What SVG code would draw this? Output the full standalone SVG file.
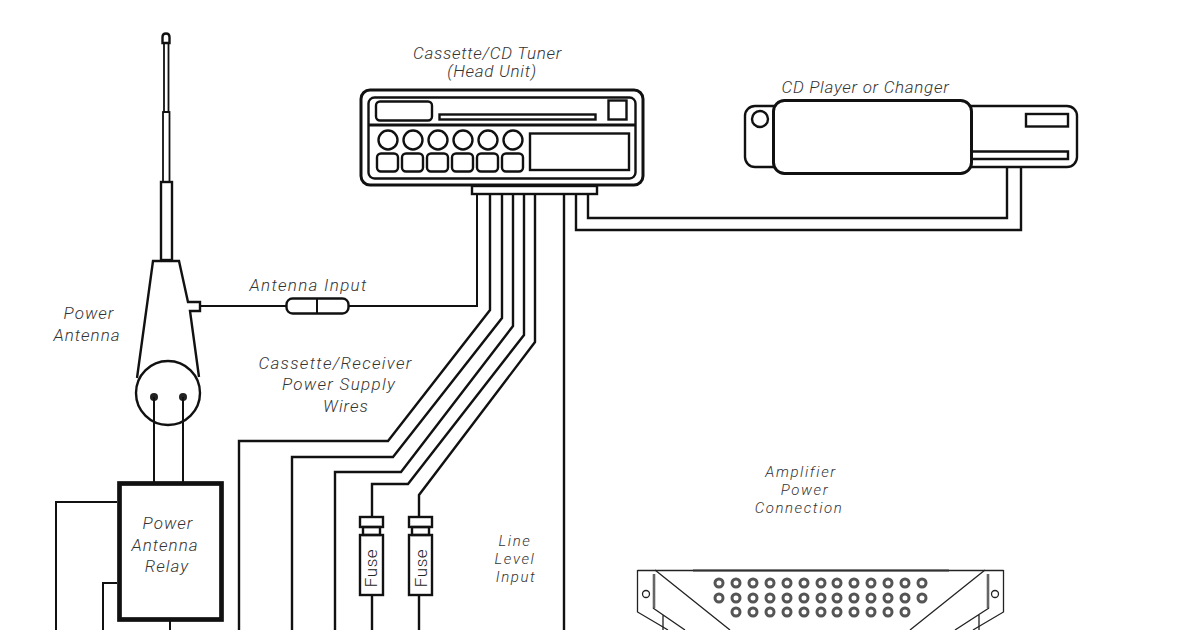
<svg xmlns="http://www.w3.org/2000/svg" width="1200" height="630" viewBox="0 0 1200 630">
<style>
.s{fill:#fff;stroke:#111;stroke-width:2.4}
.o{fill:#fff;stroke:#111;stroke-width:3}
.n{fill:none;stroke:#111;stroke-width:2.4;stroke-linejoin:miter}
.w{fill:none;stroke:#111;stroke-width:2}
.r{fill:none;stroke:#111;stroke-width:1.8}
.m{fill:none;stroke:#222;stroke-width:1.3}
.t{font-family:Roboto,"Liberation Sans",sans-serif;font-style:italic;font-weight:300;font-size:17px;letter-spacing:1px;fill:#333;text-anchor:middle}
.tn{letter-spacing:.7px}
.tw{letter-spacing:1.3px}
.ts{font-size:15px;letter-spacing:1.6px}
.f{font-family:Roboto,"Liberation Sans",sans-serif;font-weight:300;font-size:17px;letter-spacing:.6px;fill:#222;text-anchor:middle}
.h{fill:#fff;stroke:#555;stroke-width:3}
</style>
<defs>
<circle id="hole" class="h" r="4"/>
<g id="fuse">
<rect class="n" x="-11.500" y="0" width="23" height="10" fill="#fff"/>
<rect class="n" x="-8.500" y="10" width="17" height="8"/>
<rect class="n" x="-11.500" y="18" width="23" height="60"/>
</g>
</defs>
<rect width="1200" height="630" fill="#fff"/>

<g id="connectors">
<path class="w" d="M200 306H286M349 306H477V194"/>
<path class="n" d="M490 194V310L388 441H239V630"/>
<path class="n" d="M502 194V318L393 457H292V630"/>
<path class="n" d="M513 194V326L401 472H335V630"/>
<path class="n" d="M524 194V335L408 484H372V517M372 595V630"/>
<path class="n" d="M535 194V342L419 495V517M419 595V630"/>
<path class="n" d="M564 194V630"/>
<path class="n" d="M576 194V230H1021V167"/>
<path class="n" d="M588 194V218H1007V167"/>
<path class="w" d="M154 397V483M183 397V483"/>
<path class="w" d="M117 502H56V630"/>
<path class="w" d="M117 583H103V630"/>
<path class="w" d="M170 621V630"/>
</g>

<g id="head-unit">
<rect class="o" x="361" y="90" width="282" height="95" rx="9"/>
<rect class="n" x="368.500" y="97.500" width="267" height="81" rx="6"/>
<path class="o" d="M369 125H635"/>
<rect class="n" x="376" y="101.500" width="56" height="19" rx="4"/>
<rect class="n" x="439.500" y="114.500" width="156" height="5"/>
<rect class="n" x="608.500" y="100.500" width="18" height="19"/>
<g class="n">
<circle cx="388" cy="140" r="9.500"/><circle cx="413" cy="140" r="9.500"/><circle cx="438" cy="140" r="9.500"/><circle cx="463" cy="140" r="9.500"/><circle cx="488" cy="140" r="9.500"/><circle cx="513" cy="140" r="9.500"/>
<rect x="377" y="153.500" width="21" height="18" rx="4"/><rect x="402" y="153.500" width="21" height="18" rx="4"/><rect x="427" y="153.500" width="21" height="18" rx="4"/><rect x="452" y="153.500" width="21" height="18" rx="4"/><rect x="477" y="153.500" width="21" height="18" rx="4"/><rect x="502" y="153.500" width="21" height="18" rx="4"/>
</g>
<rect class="n" x="530" y="133.500" width="99" height="36.500"/>
<rect class="s" x="472" y="186" width="125" height="8"/>
<text class="t tn" x="487.500" y="59">Cassette/CD Tuner</text>
<text class="t tn" x="492" y="77">(Head Unit)</text>
</g>

<g id="cd-player">
<rect class="s" x="745" y="106" width="332" height="61" rx="10"/>
<circle class="n" cx="760" cy="119" r="8"/>
<rect class="n" x="1026" y="114" width="42" height="12.500"/>
<path class="n" d="M972 151.500H1068V159H972"/>
<rect class="o" x="773.500" y="100.500" width="198" height="73" rx="11"/>
<text class="t tn" x="865.500" y="93">CD Player or Changer</text>
</g>

<g id="power-antenna">
<path class="s" d="M162.500 43V37Q162.500 33.500 166 33.500Q169.500 33.500 169.500 37V43Z"/>
<rect class="r" x="164" y="43" width="4.500" height="69"/>
<rect class="r" x="163" y="112" width="6.500" height="70"/>
<rect class="n" x="161" y="182" width="11" height="78"/>
<path d="M137 378L153 261H179L188 302H200V311H190L199 377Z" fill="#fff"/>
<path class="n" d="M137 378L153 261H179L188 302H200V311H190L199 377"/>
<circle class="s" cx="168" cy="393" r="32"/>
<circle cx="154" cy="397" r="4" fill="#222"/><circle cx="183" cy="397" r="4" fill="#222"/>
<path class="w" d="M154 397V425M183 397V425"/>
<text class="t" x="89" y="319">Power</text>
<text class="t" x="87" y="341">Antenna</text>
</g>

<g id="antenna-input">
<rect class="s" x="286.500" y="298.500" width="62" height="15" rx="6"/>
<path class="w" d="M317 298V314"/>
<text class="t tw" x="308.500" y="291">Antenna Input</text>
</g>

<g id="power-wires-label">
<text class="t tw" x="335.500" y="369">Cassette/Receiver</text>
<text class="t tw" x="339" y="390">Power Supply</text>
<text class="t" x="346" y="412">Wires</text>
</g>

<g id="relay">
<rect x="119.500" y="483.500" width="102" height="136" fill="#fff" stroke="#111" stroke-width="4.700"/>
<text class="t" x="168" y="529">Power</text>
<text class="t" x="165" y="551">Antenna</text>
<text class="t" x="167" y="572">Relay</text>
</g>

<g id="fuse-1">
<use href="#fuse" x="371.500" y="517"/>
<text class="f" transform="translate(377 568) rotate(-90)">Fuse</text>
</g>
<g id="fuse-2">
<use href="#fuse" x="420.500" y="517"/>
<text class="f" transform="translate(427 568) rotate(-90)">Fuse</text>
</g>

<g id="line-level-label">
<text class="t ts" x="515" y="546">Line</text>
<text class="t ts" x="515" y="564">Level</text>
<text class="t ts" x="516" y="582">Input</text>
</g>

<g id="amplifier">
<text class="t ts" x="801" y="477">Amplifier</text>
<text class="t ts" x="805" y="495">Power</text>
<text class="t ts" x="799" y="513">Connection</text>
<path class="m" d="M637.500 570.500H1003.500"/>
<path d="M693 570.500H949" fill="none" stroke="#333" stroke-width="2"/>
<path class="m" d="M655 570L730 630M985 570L910 630"/>
<path class="m" d="M637.500 570V612L663 627L668 630M1003.500 570V612L978 627L973 630"/>
<path d="M654 574V608M988 574V608" fill="none" stroke="#666" stroke-width="2.600"/>
<path class="m" d="M653 608L685 630M989 608L955 630M663 615V630M979 615V630"/>
<circle class="m" cx="646" cy="594" r="3.500" stroke-width="2"/><circle class="m" cx="995" cy="594" r="3.500" stroke-width="2"/>
<g>
<use href="#hole" x="719" y="583"/><use href="#hole" x="736" y="583"/><use href="#hole" x="753" y="583"/><use href="#hole" x="770" y="583"/><use href="#hole" x="787" y="583"/><use href="#hole" x="804" y="583"/><use href="#hole" x="821" y="583"/><use href="#hole" x="837" y="583"/><use href="#hole" x="854" y="583"/><use href="#hole" x="871" y="583"/><use href="#hole" x="888" y="583"/><use href="#hole" x="905" y="583"/><use href="#hole" x="922" y="583"/>
<use href="#hole" x="719" y="598"/><use href="#hole" x="736" y="598"/><use href="#hole" x="753" y="598"/><use href="#hole" x="770" y="598"/><use href="#hole" x="787" y="598"/><use href="#hole" x="804" y="598"/><use href="#hole" x="821" y="598"/><use href="#hole" x="837" y="598"/><use href="#hole" x="854" y="598"/><use href="#hole" x="871" y="598"/><use href="#hole" x="888" y="598"/><use href="#hole" x="905" y="598"/><use href="#hole" x="922" y="598"/>
<use href="#hole" x="736" y="612"/><use href="#hole" x="753" y="612"/><use href="#hole" x="770" y="612"/><use href="#hole" x="787" y="612"/><use href="#hole" x="804" y="612"/><use href="#hole" x="821" y="612"/><use href="#hole" x="837" y="612"/><use href="#hole" x="854" y="612"/><use href="#hole" x="871" y="612"/><use href="#hole" x="888" y="612"/><use href="#hole" x="905" y="612"/>
</g>
</g>
</svg>
